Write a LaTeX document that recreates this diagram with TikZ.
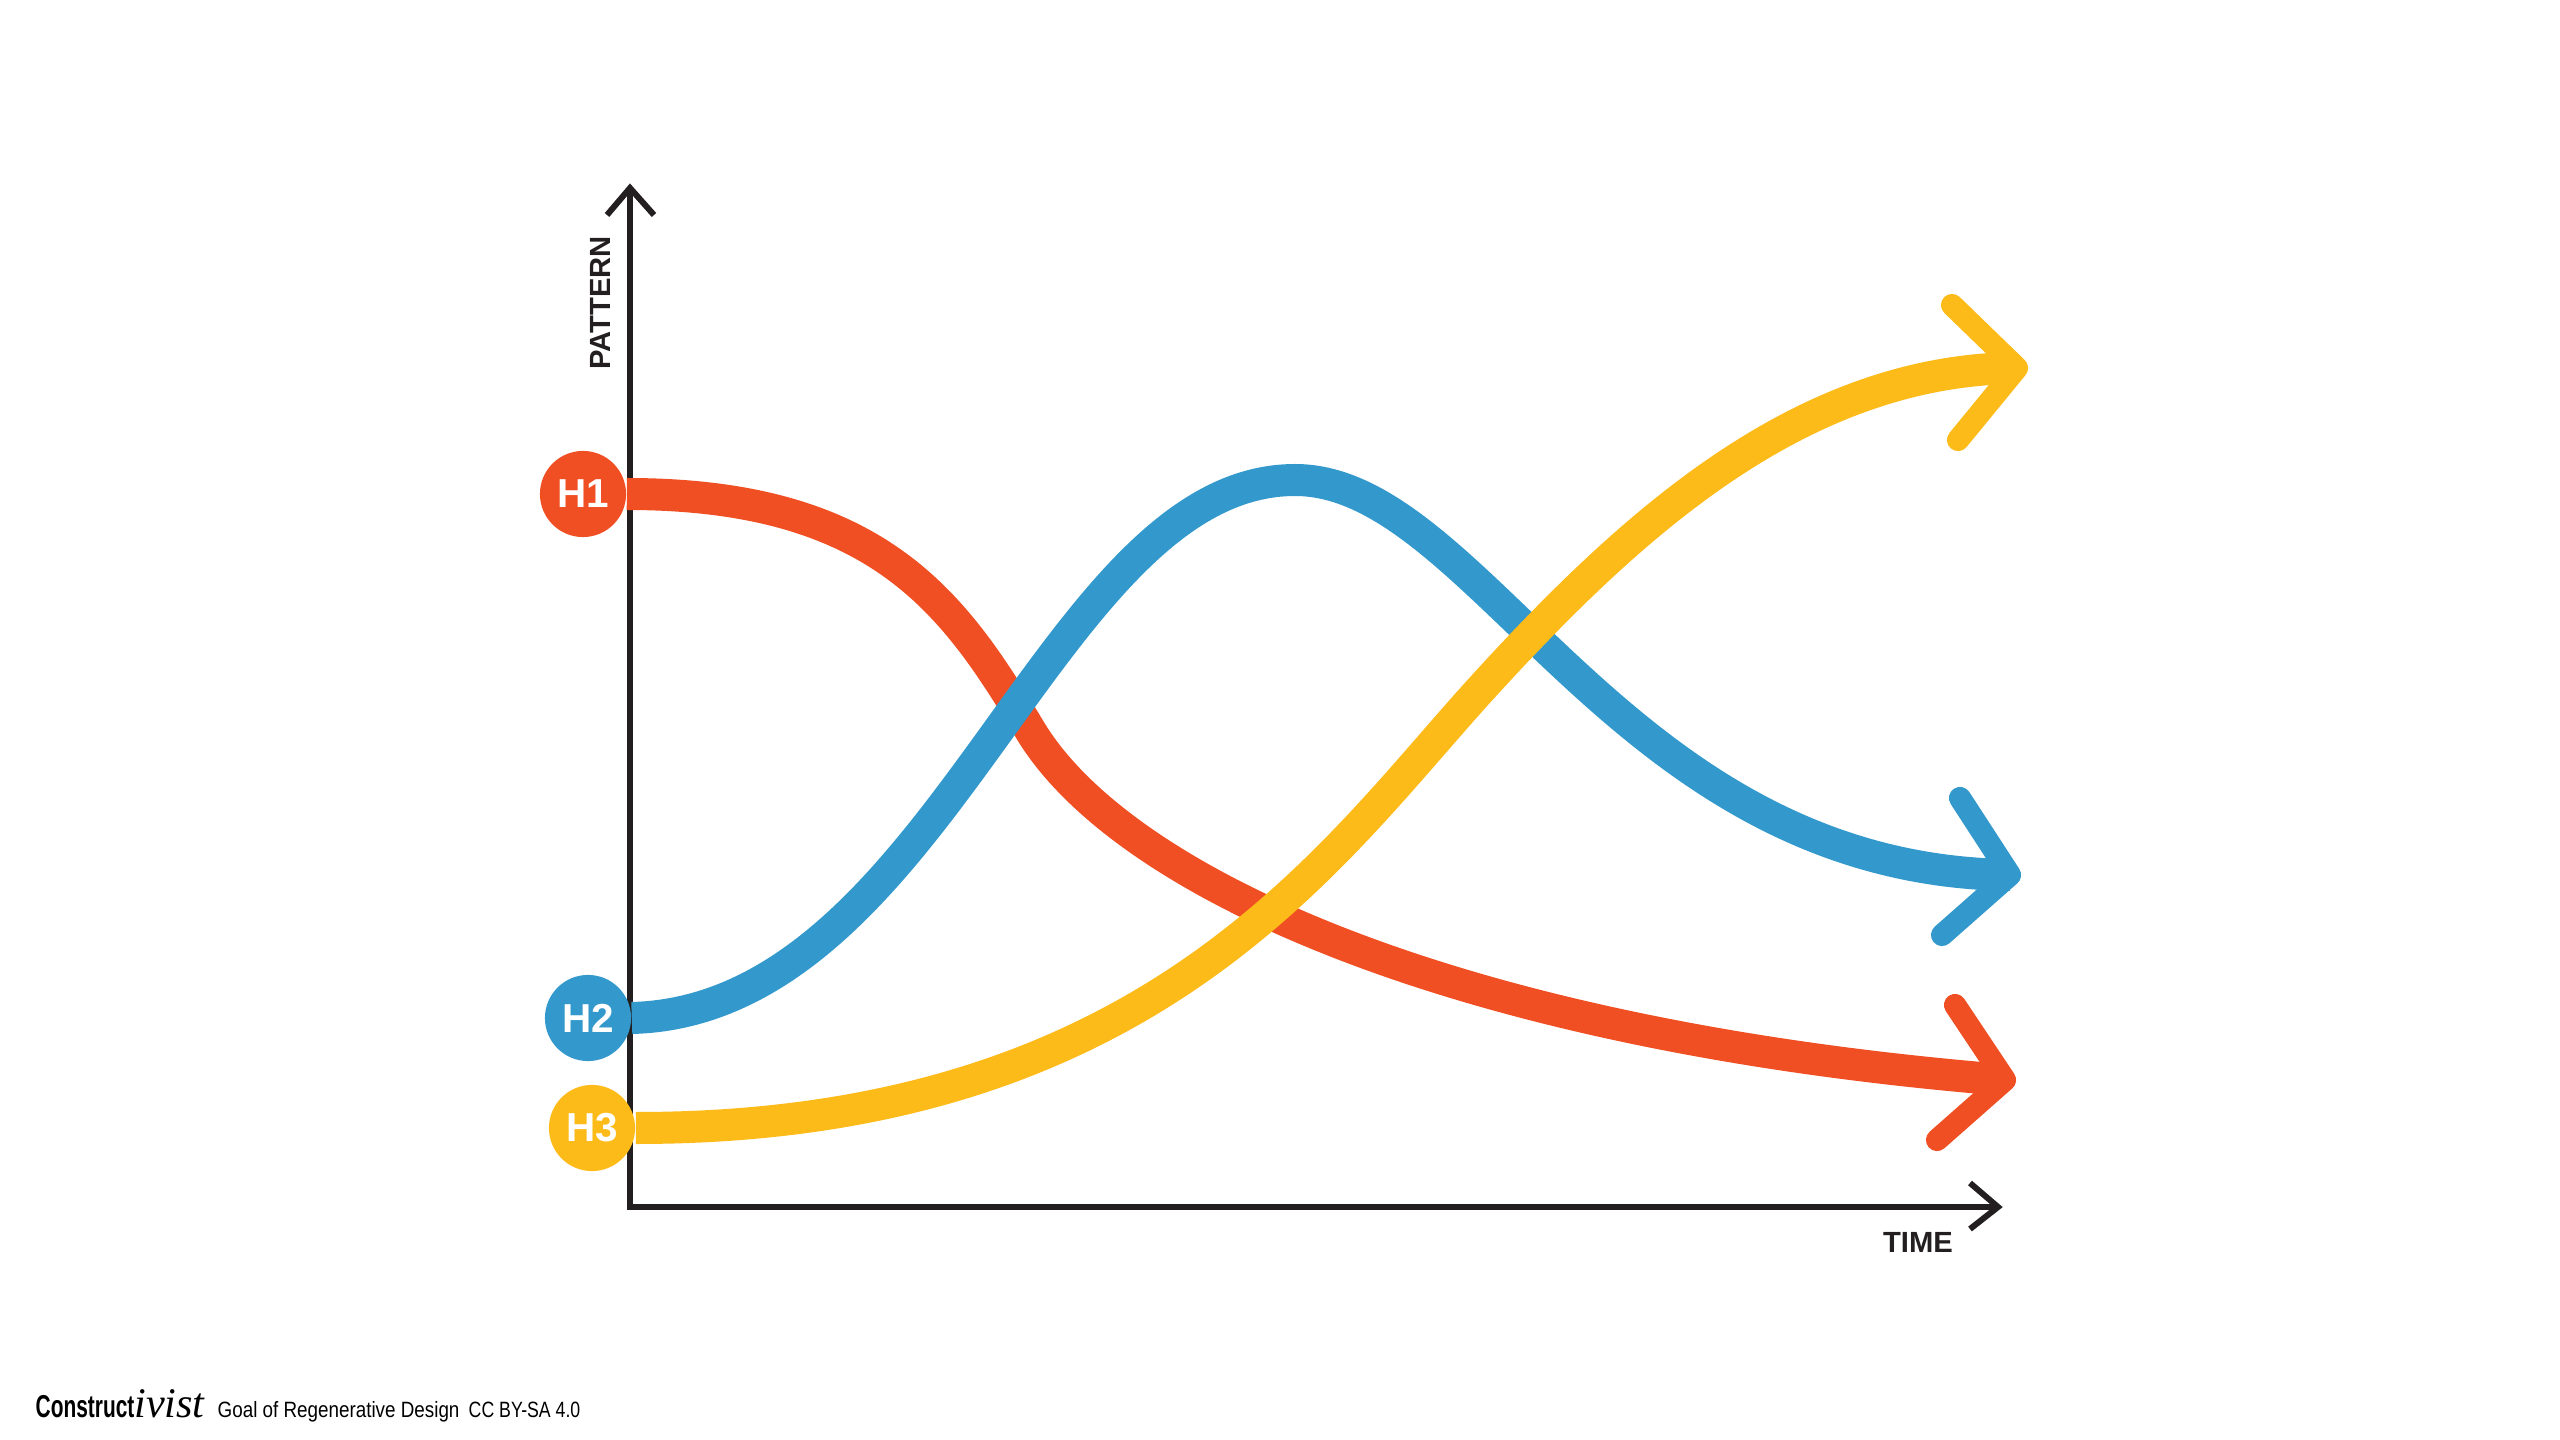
\documentclass[tikz,border=0pt]{standalone}
\usepackage{fontspec}
\setmainfont{Liberation Sans}
\newfontfamily\serifit{Liberation Serif}
\usepackage{graphicx}
\usetikzlibrary{positioning}
\definecolor{hred}{HTML}{F04E23}
\definecolor{hblue}{HTML}{3399CC}
\definecolor{hyellow}{HTML}{FDBB1A}
\definecolor{axisblack}{HTML}{231F20}

\begin{document}
\begin{tikzpicture}[x=0.01cm,y=-0.01cm]
\tikzstyle{horizon}=[line width=9.1pt]
\tikzstyle{head}=[line width=6.3pt,line cap=round,line join=round]
\tikzstyle{axis}=[line width=1.7pt,draw=axisblack]
\tikzstyle{hlabel}=[circle,minimum size=24.5pt,inner sep=0pt,text=white,font=\bfseries\fontsize{11.5}{11.5}\selectfont]
\tikzstyle{axislabel}=[font=\bfseries\fontsize{8.3}{8.3}\selectfont,text=axisblack,inner sep=0pt]

\useasboundingbox (0,0) rectangle (2560,1440);

% axes
\coordinate (origin) at (630,1207);
\coordinate (ytip) at (630,188);
\coordinate (xtip) at (1998,1207);
\draw[axis] (ytip) -- (origin) -- (xtip);
\draw[axis] (ytip) ++(-23,27) -- (ytip) -- ++(24,27);
\draw[axis] (xtip) ++(-28,-24) -- (xtip) -- ++(-28,22);

\node[axislabel,rotate=90] (pattern) at (600,303) {PATTERN};
\node[axislabel] (time) at (1918,1242) {TIME};

% horizons
\node[hlabel,fill=hred] (h1) at (583,494) {H1};
\node[hlabel,fill=hblue] (h2) at (588,1018) {H2};
\node[hlabel,fill=hyellow] (h3) at (592,1128) {H3};

\coordinate (t1) at (2005,1080);
\coordinate (t2) at (2010,875);
\coordinate (t3) at (2017,368);

\draw[horizon,hred] (h1.east) .. controls (880,494) and (955,605) .. (1030,730)
  .. controls (1120,880) and (1450,1035) .. (t1);
\draw[horizon,hblue] (h2.east) .. controls (940,1010) and (1050,480) .. (1295,480)
  .. controls (1480,480) and (1620,870) .. (t2);
\draw[horizon,hyellow] (h3.east) .. controls (1150,1128) and (1330,855) .. (1480,690)
  .. controls (1630,525) and (1800,370) .. (t3);

\draw[head,hred] (t1) ++(-50,-75) -- (t1) -- ++(-68,60);
\draw[head,hblue] (t2) ++(-50,-77) -- (t2) -- ++(-68,60);
\draw[head,hyellow] (t3) ++(-65,-63) -- (t3) -- ++(-59,72);

% footer
\node[anchor=base west,inner sep=0pt] (brand) at (35,1417)
  {\scalebox{0.66}[1]{\bfseries\fontsize{9}{9}\selectfont Construct}{\serifit\itshape\fontsize{12}{12}\selectfont ivist}};
\node[anchor=base west,inner sep=0pt] (title) at (217,1417)
  {\scalebox{0.85}[1]{\fontsize{6.3}{6.3}\selectfont Goal of Regenerative Design}};
\node[anchor=base west,inner sep=0pt] (licence) at (468,1417)
  {\scalebox{0.8}[1]{\fontsize{6.3}{6.3}\selectfont CC BY-SA 4.0}};
\end{tikzpicture}
\end{document}
